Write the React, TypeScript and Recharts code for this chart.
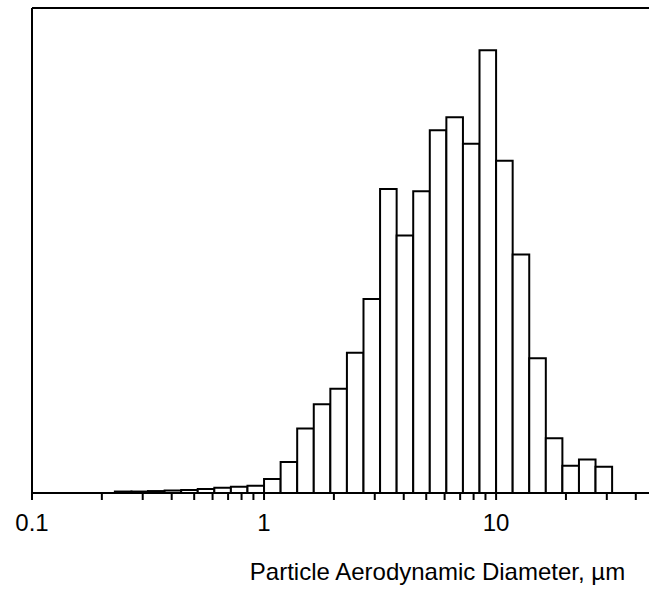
import { ComposedChart, XAxis, YAxis, ReferenceArea, Label } from "recharts"

// bin edges, 14 bins per decade (µm)
const binEdges = [
  0.2276, 0.2683, 0.3162, 0.3728, 0.4394, 0.5179, 0.6105, 0.7197, 0.8483, 1,
  1.1788, 1.3895, 1.6379, 1.9307, 2.2758, 2.6827, 3.1623, 3.7276, 4.394, 5.1795,
  6.1054, 7.1969, 8.4834, 10, 11.788, 13.895, 16.379, 19.307, 22.758, 26.827, 31.623,
]

// relative frequency per bin (no y scale shown)
const binValues = [
  0.3, 0.3, 0.4, 0.5, 0.6, 0.8, 1.1, 1.3, 1.5, 2.9,
  6.4, 13.3, 18.3, 21.5, 28.9, 40.0, 62.7, 53.1, 62.2, 74.8,
  77.5, 72.0, 91.3, 68.5, 49.2, 27.8, 11.3, 5.6, 6.9, 5.4,
]

const xTicks = [
  0.1, 0.2, 0.3, 0.4, 0.5, 0.6, 0.7, 0.8, 0.9,
  1, 2, 3, 4, 5, 6, 7, 8, 9,
  10, 20, 30, 40,
]
const labelledTicks = [0.1, 1, 10]

const xDomain = [0.1, 45.6]
const yDomain = [0, 100]

const bins = binValues.map((v, i) => ({
  lo: binEdges[i],
  hi: binEdges[i + 1],
  v,
}))

const font = "'Liberation Sans', Arial, sans-serif"

export default function App() {
  return (
    <div style={{ position: "absolute", left: 0, top: 0 }}>
      <ComposedChart
        width={649}
        height={593}
        data={bins}
        margin={{ top: 7, right: 0, left: 31, bottom: 0 }}
      >
        <XAxis
          xAxisId="top"
          orientation="top"
          dataKey="lo"
          type="number"
          scale="log"
          domain={xDomain}
          allowDataOverflow
          height={1}
          tick={false}
          tickLine={false}
          axisLine={{ stroke: "#000", strokeWidth: 2 }}
        />
        <XAxis
          dataKey="lo"
          type="number"
          scale="log"
          domain={xDomain}
          allowDataOverflow
          ticks={xTicks}
          interval={0}
          height={100}
          tickSize={7}
          tickMargin={14}
          tickFormatter={(v) => (labelledTicks.includes(v) ? String(v) : "")}
          tick={{ fill: "#000", fontSize: 24, fontFamily: font }}
          tickLine={{ stroke: "#000", strokeWidth: 2 }}
          axisLine={{ stroke: "#000", strokeWidth: 2 }}
        >
          <Label
            value="Particle Aerodynamic Diameter, µm"
            position="insideBottom"
            offset={13}
            dx={97}
            fill="#000"
            fontSize={24}
            fontFamily={font}
          />
        </XAxis>
        <YAxis
          dataKey="v"
          type="number"
          domain={yDomain}
          allowDataOverflow
          width={1}
          tick={false}
          tickLine={false}
          axisLine={{ stroke: "#000", strokeWidth: 2 }}
        />
        {bins.map((b, i) => (
          <ReferenceArea
            key={i}
            x1={b.lo}
            x2={b.hi}
            y1={0}
            y2={b.v}
            fill="#fff"
            fillOpacity={1}
            stroke="#000"
            strokeWidth={2}
            ifOverflow="visible"
          />
        ))}
      </ComposedChart>
    </div>
  )
}
